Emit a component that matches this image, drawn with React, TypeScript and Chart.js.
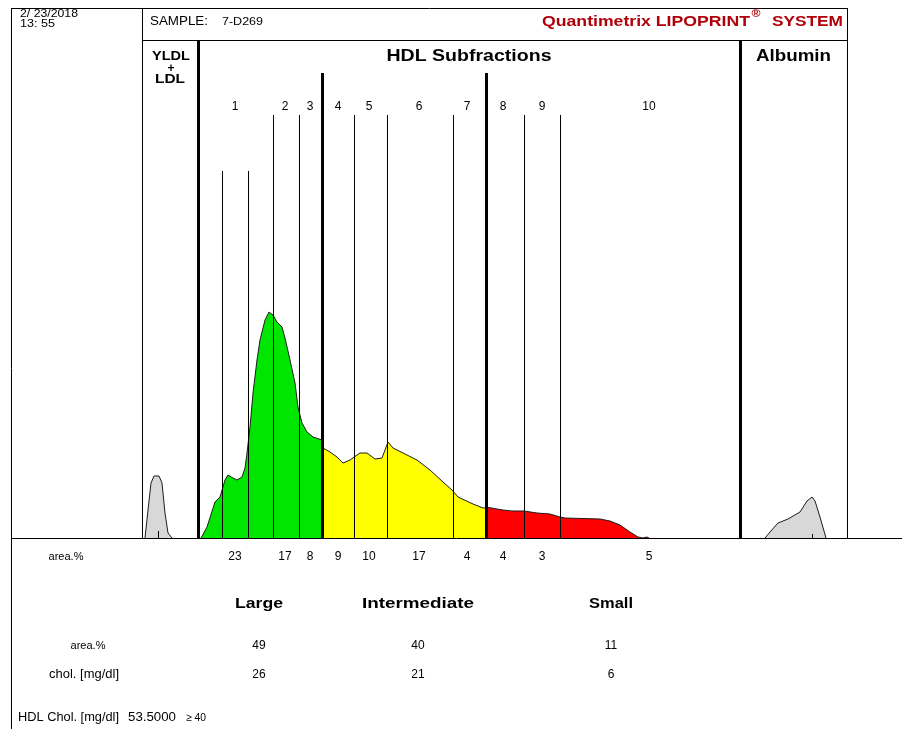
import React, { useEffect, useRef } from "react";
import { Chart, registerables } from "chart.js";

Chart.register(...registerables);

// ---------------- data ----------------
const reportDate = "2/ 23/2018";
const reportTime = "13: 55";
const sampleId = "7-D269";
const systemName = "Quantimetrix LIPOPRINT";
const systemSuffix = "SYSTEM";

// mobility axis: 0 = start of HDL region
const vldlPanelStart = -56;
const hdlStart = 0;
const albuminStart = 542;
const albuminEnd = 649;

const subfractionBoundaries = [24, 50, 75, 101, 124, 156, 189, 255, 288, 326, 362];
const fractionLabels = ["1", "2", "3", "4", "5", "6", "7", "8", "9", "10"];
const fractionLabelMobility = [37, 87, 112, 140, 171, 221, 269, 305, 344, 451];
const fractionAreaPct = [23, 17, 8, 9, 10, 17, 4, 4, 3, 5];

const groupNames = ["Large", "Intermediate", "Small"];
const groupLabelMobility = [61, 220, 413];
const groupAreaPct = [49, 40, 11];
const groupChol = [26, 21, 6];
const hdlCholValue = "53.5000";
const hdlCholRef = "\u2265 40";

const vldlMobility = [-53, -50, -47, -44, -39, -36, -33, -30, -26];
const vldlSignal = [0, 28, 55, 62, 62, 55, 25, 5, 0];
const vldlPeak = -40;

const largeMobility = [3, 9, 17, 22, 27, 30, 35, 39, 44, 47, 49, 52, 55, 59, 62, 67, 71, 75, 79, 84, 87, 92, 97, 100, 104, 109, 115, 124];
const largeSignal = [0, 11, 36, 41, 58, 63, 60, 58, 61, 70, 85, 111, 145, 178, 198, 218, 226, 223, 216, 211, 200, 178, 155, 131, 115, 106, 101, 98];

const intermediateMobility = [124, 125, 132, 139, 145, 152, 162, 169, 177, 184, 190, 195, 205, 219, 232, 245, 254, 260, 275, 285, 288];
const intermediateSignal = [91, 90, 86, 81, 75, 78, 85, 85, 79, 80, 96, 90, 85, 78, 68, 56, 48, 41, 34, 30, 30];

const smallMobility = [288, 299, 305, 314, 326, 339, 352, 362, 367, 402, 412, 422, 432, 440, 445, 449, 451];
const smallSignal = [31, 29, 28, 27, 27, 25, 24, 21, 20, 19, 17, 13, 6, 1, 0, 1, 0];

const albuminMobility = [567, 572, 580, 590, 602, 609, 614, 617, 622, 628];
const albuminSignal = [0, 6, 15, 19, 26, 37, 41, 37, 21, 0];
const albuminPeak = 614;

// ---------------- styles ----------------
const FONT = "'Liberation Sans', Arial, sans-serif";
const boundaryStyle = ["short", "short", "minor", "minor", "major", "minor", "minor", "minor", "major", "minor", "minor"];
const FRAME_TOP = 8;
const TOPS: Record<string, number> = { short: 171, minor: 115, major: 73 };

const zip = (xs: number[], ys: number[]) => xs.map((x, i) => ({ x, y: ys[i] }));

function drawText(
  ctx: CanvasRenderingContext2D,
  text: string,
  x: number,
  y: number,
  font: string,
  align: "left" | "center" | "right" = "left",
  width?: number,
  color = "#000"
) {
  ctx.save();
  ctx.font = font;
  ctx.fillStyle = color;
  ctx.textBaseline = "middle";
  ctx.textAlign = "left";
  const m = ctx.measureText(text).width;
  const sx = width ? width / m : 1;
  const w = m * sx;
  let left = x;
  if (align === "center") left = x - w / 2;
  else if (align === "right") left = x - w;
  ctx.translate(left, y);
  ctx.scale(sx, 1);
  ctx.fillText(text, 0, 0);
  ctx.restore();
}

function vline(ctx: CanvasRenderingContext2D, x: number, y0: number, y1: number, w: number) {
  ctx.beginPath();
  ctx.lineWidth = w;
  const xx = w % 2 === 1 ? Math.round(x) + 0.5 : Math.round(x);
  ctx.moveTo(xx, y0);
  ctx.lineTo(xx, y1);
  ctx.stroke();
}

function hline(ctx: CanvasRenderingContext2D, y: number, x0: number, x1: number, w: number) {
  ctx.beginPath();
  ctx.lineWidth = w;
  const yy = w % 2 === 1 ? Math.round(y) + 0.5 : Math.round(y);
  ctx.moveTo(x0, yy);
  ctx.lineTo(x1, yy);
  ctx.stroke();
}

const reportPlugin = {
  id: "lipoprintReport",
  afterDatasetsDraw(chart: any) {
    const { ctx, chartArea, scales } = chart;
    const X = (v: number) => scales.x.getPixelForValue(v);
    const base = Math.round(scales.y.getPixelForValue(0));
    const top = chartArea.top;
    const left = chartArea.left;
    const right = chartArea.right;
    ctx.save();
    ctx.strokeStyle = "#000";

    // frame
    vline(ctx, left, FRAME_TOP, chart.height, 1);
    hline(ctx, FRAME_TOP, left, X(albuminEnd) + 1, 1);
    hline(ctx, top, X(vldlPanelStart), X(albuminEnd) + 1, 1);
    vline(ctx, X(vldlPanelStart), FRAME_TOP, base, 1);
    vline(ctx, X(albuminEnd), FRAME_TOP, base, 1);
    vline(ctx, X(hdlStart), top, base, 3);
    vline(ctx, X(albuminStart), top, base, 3);

    // subfraction boundaries
    subfractionBoundaries.forEach((b, i) => {
      const s = boundaryStyle[i];
      vline(ctx, X(b), TOPS[s], base, s === "major" ? 3 : 1);
    });

    // peak markers
    vline(ctx, X(vldlPeak), base - 7, base, 1);
    vline(ctx, X(albuminPeak), base - 4, base, 1);

    // baseline
    hline(ctx, base, left, right, 1);

    // header
    drawText(ctx, reportDate, 20, 14, `11px ${FONT}`, "left", 58);
    drawText(ctx, reportTime, 20, 24, `11px ${FONT}`, "left", 35);
    drawText(ctx, "SAMPLE:", 150, 21, `13px ${FONT}`, "left", 58);
    drawText(ctx, sampleId, 222, 22, `11px ${FONT}`, "left", 41);
    const red = "#b0000a";
    drawText(ctx, systemName, 542, 22, `bold 14px ${FONT}`, "left", 208, red);
    drawText(ctx, "\u00ae", 756, 14, `bold 10px ${FONT}`, "center", 9, red);
    drawText(ctx, systemSuffix, 843, 22, `bold 14px ${FONT}`, "right", 71, red);

    // panel titles
    const vldlCenter = (X(vldlPanelStart) + X(hdlStart)) / 2;
    drawText(ctx, "YLDL", vldlCenter + 1, 57, `bold 12px ${FONT}`, "center", 38);
    drawText(ctx, "+", vldlCenter + 1, 69, `bold 12px ${FONT}`, "center");
    drawText(ctx, "LDL", vldlCenter, 80, `bold 12px ${FONT}`, "center", 30);
    drawText(ctx, "HDL Subfractions", (X(hdlStart) + X(albuminStart)) / 2, 57, `bold 16px ${FONT}`, "center", 165);
    drawText(ctx, "Albumin", (X(albuminStart) + X(albuminEnd)) / 2, 57, `bold 16px ${FONT}`, "center", 75);

    // fraction numbers
    fractionLabels.forEach((l, i) => {
      drawText(ctx, l, X(fractionLabelMobility[i]), 107, `12px ${FONT}`, "center");
    });

    // area row under baseline
    drawText(ctx, "area.%", 66, base + 19, `11px ${FONT}`, "center", 35);
    fractionAreaPct.forEach((v, i) => {
      drawText(ctx, String(v), X(fractionLabelMobility[i]), base + 19, `12px ${FONT}`, "center");
    });

    // summary table
    const groupWidths = [48, 112, 44];
    groupNames.forEach((g, i) => {
      drawText(ctx, g, X(groupLabelMobility[i]), 604, `bold 14px ${FONT}`, "center", groupWidths[i]);
      drawText(ctx, String(groupAreaPct[i]), X(groupLabelMobility[i]), 646, `12px ${FONT}`, "center");
      drawText(ctx, String(groupChol[i]), X(groupLabelMobility[i]), 675, `12px ${FONT}`, "center");
    });
    drawText(ctx, "area.%", 88, 646, `11px ${FONT}`, "center", 35);
    drawText(ctx, "chol. [mg/dl]", 84, 675, `12px ${FONT}`, "center", 70);
    drawText(ctx, "HDL Chol. [mg/dl]", 18, 718, `12px ${FONT}`, "left", 101);
    drawText(ctx, hdlCholValue, 128, 718, `12px ${FONT}`, "left", 48);
    drawText(ctx, hdlCholRef, 186, 718, `11px ${FONT}`, "left", 20);

    ctx.restore();
  },
};

export default function App() {
  const ref = useRef<HTMLCanvasElement>(null);
  useEffect(() => {
    const outline = "#1c1c1c";
    const mk = (label: string, xs: number[], ys: number[], fill: string) => ({
      label,
      data: zip(xs, ys),
      borderColor: outline,
      borderWidth: 1,
      backgroundColor: fill,
      fill: "origin",
      pointRadius: 0,
      tension: 0,
    });
    const chart = new Chart(ref.current as HTMLCanvasElement, {
      type: "line",
      data: {
        datasets: [
          mk("VLDL + LDL", vldlMobility, vldlSignal, "#d8d8d8"),
          mk("Large", largeMobility, largeSignal, "#00e600"),
          mk("Intermediate", intermediateMobility, intermediateSignal, "#ffff00"),
          mk("Small", smallMobility, smallSignal, "#ff0000"),
          mk("Albumin", albuminMobility, albuminSignal, "#d8d8d8"),
        ] as any,
      },
      options: {
        responsive: false,
        animation: false,
        devicePixelRatio: 1,
        layout: { padding: { left: 11, right: 0, top: 40, bottom: 191 } },
        plugins: { legend: { display: false }, tooltip: { enabled: false } },
        scales: {
          x: { type: "linear", display: false, min: -187, max: 704 },
          y: { display: false, min: 0, max: 498 },
        },
      },
      plugins: [reportPlugin],
    } as any);
    return () => chart.destroy();
  }, []);
  return (
    <canvas
      ref={ref}
      width={902}
      height={729}
      style={{ position: "fixed", left: 0, top: 0, width: 902, height: 729, background: "#fff" }}
    />
  );
}
